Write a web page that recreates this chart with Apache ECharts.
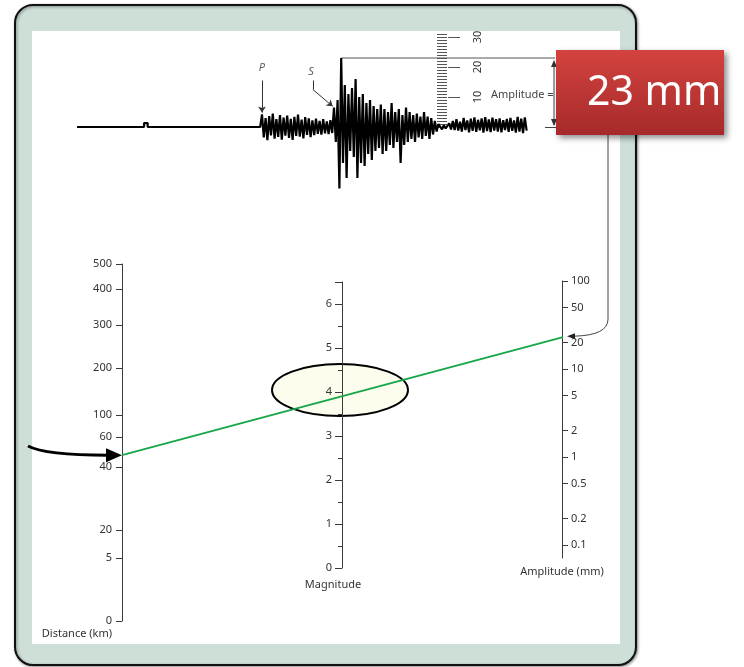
<!DOCTYPE html>
<html>
<head>
<meta charset="utf-8">
<title>Richter magnitude nomogram</title>
<script src="https://cdn.jsdelivr.net/npm/echarts@6/dist/echarts.min.js"></script>
<style>
  html, body { margin: 0; padding: 0; background: #fff; }
  #chart { width: 744px; height: 667px; }
</style>
</head>
<body>
<div id="chart"></div>
<script>
// --- seismogram (time in s, ground motion in mm) ---
const minuteMark = 15.3;
const pArrival = 41.1;
const sArrival = 56.9;
const traceStart = 40.7;
const traceStep = 0.4;
const traceEnd = 106.2;
const traceAmp = [
  // P coda
  0, 4.2, -3.5, 3.0, -4.4, 3.6, -2.8, 4.5, -3.9, 2.6, -3.3, 4.0, -4.2, 3.1, -2.9, 3.8,
  -3.6, 2.7, -4.3, 3.4, -3.0, 4.1, -3.2, 2.5, -3.8, 3.3, -2.6, 2.9, -3.4, 2.2, -2.7,
  2.8, -2.3, 2.0, -2.5, 2.6, -2.1, 1.9, -2.4, 2.3, -2.0,
  // S waves
  6.5, -5, 9, -20.5, 23, -12, 14, -17, 11, -8, 13, -10, 16, -17, 10, -12, 11, -13,
  8, -9, 9, -11, 7, -8, 6, -7, 7.5, -9, 6, -8, 5, -6, 8, -7, 5, -5, 6, -12, 4, -6,
  6.5, -5, 5, -4, 4, -5, 4.5, -3.5, 3.5, -4, 5, -3, 3.5, -4, 3, -2.5, 2, -1.5, 1,
  // tail
  0.5, -0.8, 0.6, -0.5, 0.4,
  1.2, -0.8, 2.0, -1.0, 2.6, -1.2, 1.8, -1.5, 3.0, -1.0, 2.2, -1.8, 2.8, -1.3, 3.2,
  -1.6, 2.4, -1.1, 2.9, -1.9, 3.3, -1.4, 2.5, -1.7, 3.1, -1.2, 2.6, -1.5, 2.9, -1.8,
  2.3, -1.0, 2.7, -1.6, 3.0, -1.3, 2.2, -1.9, 3.4, -1.5, 2.8, -2.0, 3.2, -1.2
];
const maxAmplitude = 23;
const rulerTicks = [10, 20, 30];

// --- nomogram scales ---
const distanceKm = [0, 5, 20, 40, 60, 100, 200, 300, 400, 500];
const distanceScale = [0, 17.6, 25.5, 43.1, 51.5, 57.7, 70.9, 82.9, 93.0, 100];
const amplitudeTicks = [0.1, 0.2, 0.5, 1, 2, 5, 10, 20, 50, 100];
const eventDistance = 48;
const eventMagnitude = 4;

const axisColor = '#3a3a3a';
const labelStyle = { color: '#333', fontSize: 11, fontFamily: 'Noto Sans' };

// km -> position on the distance scale
function distanceToScale(km) {
  for (let i = 1; i < distanceKm.length; i++) {
    if (km <= distanceKm[i]) {
      const t = (km - distanceKm[i - 1]) / (distanceKm[i] - distanceKm[i - 1]);
      return distanceScale[i - 1] + t * (distanceScale[i] - distanceScale[i - 1]);
    }
  }
  return distanceScale[distanceScale.length - 1];
}

const seismo = [
  [0, 0], [minuteMark - 0.4, 0], [minuteMark - 0.4, 1.3], [minuteMark + 0.4, 1.3],
  [minuteMark + 0.4, 0], [traceStart, 0]
].concat(traceAmp.map((a, i) => [traceStart + i * traceStep, a]));
const peakIndex = traceAmp.indexOf(maxAmplitude);
const peakTime = traceStart + peakIndex * traceStep;

const chart = echarts.init(document.getElementById('chart'));

const hidden = { show: false };
const option = {
  backgroundColor: '#fff',
  animation: false,
  grid: [
    { left: 77, right: 189, top: 56.5, bottom: 478.5 },   // seismogram
    { left: 122, width: 1, top: 264, bottom: 46 },        // distance
    { left: 342, width: 1, top: 282, bottom: 99 },        // magnitude
    { left: 562, width: 1, top: 281, bottom: 109 },       // amplitude
    { left: 437, width: 11, top: 34, bottom: 540 }        // ruler
  ],
  xAxis: [
    { gridIndex: 0, type: 'value', min: 0, max: traceEnd, show: false },
    { gridIndex: 1, type: 'value', min: 0, max: 1, show: false },
    { gridIndex: 2, type: 'value', min: 0, max: 1, show: false },
    { gridIndex: 3, type: 'value', min: 0, max: 1, show: false },
    { gridIndex: 4, type: 'value', min: 0, max: 1, show: false }
  ],
  yAxis: [
    { gridIndex: 0, type: 'value', min: -20.5, max: 23.5, show: false },
    {
      gridIndex: 1, type: 'value', min: 0, max: 100,
      name: 'Distance (km)', nameLocation: 'start', nameGap: 7,
      nameTextStyle: Object.assign({}, labelStyle, { align: 'right', padding: [0, 10, 0, 0] }),
      axisLine: { lineStyle: { color: axisColor } },
      axisTick: { customValues: distanceScale, length: 6, lineStyle: { color: axisColor } },
      axisLabel: Object.assign({}, labelStyle, {
        customValues: distanceScale, margin: 10,
        formatter: v => {
          const i = distanceScale.findIndex(p => Math.abs(p - v) < 1e-6);
          return i >= 0 ? String(distanceKm[i]) : '';
        }
      }),
      splitLine: hidden
    },
    {
      gridIndex: 2, type: 'value', min: 0, max: 6.5, interval: 1,
      name: 'Magnitude', nameLocation: 'start', nameGap: 11,
      nameTextStyle: Object.assign({}, labelStyle, { padding: [0, 18, 0, 0] }),
      axisLine: { lineStyle: { color: axisColor } },
      axisTick: { length: 7, lineStyle: { color: axisColor } },
      minorTick: { show: true, splitNumber: 2, length: 4, lineStyle: { color: axisColor } },
      axisLabel: Object.assign({}, labelStyle, { margin: 10, showMaxLabel: false }),
      splitLine: hidden, minorSplitLine: hidden
    },
    {
      gridIndex: 3, type: 'log', logBase: 10, min: 0.071, max: 100, position: 'right',
      name: 'Amplitude (mm)', nameLocation: 'start', nameGap: 8,
      nameTextStyle: labelStyle,
      axisLine: { lineStyle: { color: axisColor } },
      axisTick: { customValues: amplitudeTicks, length: 6, lineStyle: { color: axisColor } },
      axisLabel: Object.assign({}, labelStyle, {
        customValues: amplitudeTicks, margin: 8, formatter: v => String(v)
      }),
      splitLine: hidden
    },
    {
      // ruler comb
      gridIndex: 4, type: 'value', min: 0, max: 31, interval: 1, position: 'left',
      axisLine: hidden, axisLabel: hidden, splitLine: hidden,
      axisTick: { inside: true, length: 10, lineStyle: { color: '#555', width: 1 } }
    },
    {
      gridIndex: 4, type: 'value', min: 0, max: 31, position: 'right',
      axisLine: hidden, splitLine: hidden,
      axisTick: { customValues: rulerTicks, length: 12, lineStyle: { color: '#555' } },
      axisLabel: Object.assign({}, labelStyle, {
        customValues: rulerTicks, rotate: 90, margin: 24, fontSize: 11
      })
    }
  ],
  series: [
    {
      name: 'trace', type: 'line', xAxisIndex: 0, yAxisIndex: 0,
      data: seismo, symbol: 'none', z: 3,
      lineStyle: { color: '#000', width: 2.2, join: 'bevel' },
      markLine: {
        silent: true, symbolSize: 6, animation: false,
        lineStyle: { color: '#333', width: 1, type: 'solid' },
        label: { show: false },
        data: [
          [{ coord: [pArrival, 15.5], symbol: 'none' }, { coord: [pArrival, 4.8], symbol: 'arrow' }],
          [{ coord: [52.4, 15.5], symbol: 'none' }, { coord: [52.4, 12.5], symbol: 'none' }],
          [{ coord: [52.4, 12.5], symbol: 'none' }, { coord: [sArrival - 0.1, 6.9], symbol: 'arrow' }]
        ]
      }
    },
    {
      name: 'peak', type: 'line', xAxisIndex: 0, yAxisIndex: 0,
      data: [[peakTime, maxAmplitude], [traceEnd, maxAmplitude]],
      symbol: 'none', lineStyle: { color: '#555', width: 1 }, z: 2
    },
    {
      name: 'phases', type: 'scatter', xAxisIndex: 0, yAxisIndex: 0,
      data: [[pArrival, 19.6, 'P'], [52.0, 18.5, 'S']],
      symbolSize: 1, itemStyle: { color: 'rgba(0,0,0,0)' },
      label: {
        show: true, position: 'inside', formatter: p => p.value[2],
        color: '#333', fontSize: 11, fontStyle: 'italic', fontFamily: 'Noto Sans'
      }
    }
  ]
};
chart.setOption(option);

// points on the three scales, through the axes
const pD = chart.convertToPixel({ gridIndex: 1 }, [0, distanceToScale(eventDistance)]);
const pM = chart.convertToPixel({ gridIndex: 2 }, [0, eventMagnitude]);
const pA = chart.convertToPixel({ gridIndex: 3 }, [1, maxAmplitude]);

chart.setOption({
  graphic: [
    {
      type: 'rect', z: -10, shape: { x: 15, y: 5, width: 621, height: 660, r: 18 },
      style: { fill: '#cddfd7', stroke: '#111', lineWidth: 2,
        shadowBlur: 3, shadowOffsetX: 1, shadowOffsetY: 1, shadowColor: 'rgba(0,0,0,0.4)' }
    },
    { type: 'rect', z: -9, shape: { x: 32, y: 31, width: 588, height: 613 }, style: { fill: '#fff' } },
    {
      type: 'ellipse', z: -5, shape: { cx: pM[0] - 2, cy: pM[1] - 2, rx: 68, ry: 26 },
      style: { fill: 'rgba(250,250,215,0.45)', stroke: '#000', lineWidth: 2 }
    },
    {
      type: 'line', z: 10, shape: { x1: pD[0], y1: pD[1], x2: pA[0], y2: pA[1] },
      style: { stroke: '#17a74a', lineWidth: 2 }
    },
    {
      type: 'bezierCurve', z: 11,
      shape: { x1: 28, y1: 446, cpx1: 45, cpy1: pD[1], x2: pD[0] - 14, y2: pD[1] },
      style: { stroke: '#000', lineWidth: 3, fill: null }
    },
    {
      type: 'polygon', z: 11,
      shape: { points: [[pD[0] - 16, pD[1] - 7], [pD[0], pD[1]], [pD[0] - 16, pD[1] + 7]] },
      style: { fill: '#000' }
    },
    // connector from the reading to the amplitude scale
    {
      type: 'polyline', z: 8,
      shape: { points: [[608, 135], [608, pA[1] - 18]] },
      style: { stroke: '#444', lineWidth: 1, fill: null }
    },
    {
      type: 'bezierCurve', z: 8,
      shape: { x1: 608, y1: pA[1] - 18, cpx1: 608, cpy1: pA[1] - 2, x2: pA[0] + 12, y2: pA[1] - 1 },
      style: { stroke: '#444', lineWidth: 1, fill: null }
    },
    {
      type: 'polygon', z: 8,
      shape: { points: [[pA[0] + 12, pA[1] - 4], [pA[0] + 4, pA[1] - 1], [pA[0] + 12, pA[1] + 2]] },
      style: { fill: '#222' }
    },
    // amplitude bracket beside the seismogram
    {
      type: 'text', z: 5, style: { text: 'Amplitude =', x: 491, y: 95, verticalAlign: 'middle',
        fill: '#444', fontSize: 11, fontFamily: 'Noto Sans' }
    },
    { type: 'line', z: 5, shape: { x1: 554, y1: 62, x2: 554, y2: 125 }, style: { stroke: '#444', lineWidth: 1 } },
    { type: 'line', z: 5, shape: { x1: 545, y1: 127.5, x2: 560, y2: 127.5 }, style: { stroke: '#444', lineWidth: 1 } },
    { type: 'polygon', z: 5, shape: { points: [[551, 67], [554, 60], [557, 67]] }, style: { fill: '#333' } },
    { type: 'polygon', z: 5, shape: { points: [[551, 119], [554, 126], [557, 119]] }, style: { fill: '#333' } },
    // reading label
    {
      type: 'rect', z: 20, shape: { x: 556, y: 50, width: 168, height: 85 },
      style: {
        fill: new echarts.graphic.LinearGradient(0, 0, 0, 1, [
          { offset: 0, color: '#d3433f' }, { offset: 1, color: '#a62a2a' }
        ]),
        shadowBlur: 6, shadowOffsetX: 3, shadowOffsetY: 3, shadowColor: 'rgba(0,0,0,0.45)'
      }
    },
    {
      type: 'text', z: 21, style: { text: maxAmplitude + ' mm', x: 587, y: 93, verticalAlign: 'middle',
        fill: '#fff', fontSize: 41, fontFamily: 'Noto Sans' }
    }
  ]
});
</script>
</body>
</html>
